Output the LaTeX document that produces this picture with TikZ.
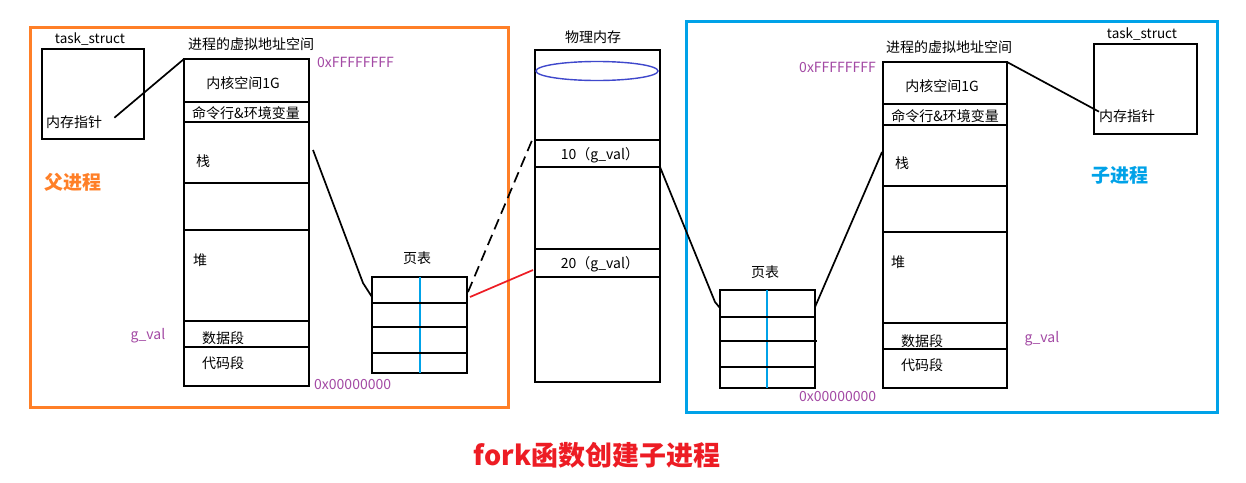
\documentclass[tikz,border=0pt]{standalone}
\usepackage{fontspec}
\setmainfont{Noto Sans CJK SC}
\usetikzlibrary{calc,shapes.geometric}
\definecolor{forange}{HTML}{FF7F27}
\definecolor{fblue}{HTML}{00A2E8}
\definecolor{purp}{HTML}{A349A4}
\definecolor{ellblue}{HTML}{3F48CC}
\definecolor{fred}{HTML}{ED1C24}
\begin{document}
\begin{tikzpicture}[x=1pt,y=-1pt,
  box/.style={draw=black, line width=1.7pt, inner sep=0pt, outer sep=0pt},
  seg/.style={box, anchor=north west},
  lbl/.style={font=\fontsize{14}{14}\selectfont, inner sep=0pt},
  small/.style={font=\fontsize{13.5}{13.5}\selectfont, inner sep=0pt},
  addr/.style={font=\fontsize{14}{14}\selectfont, text=purp, inner sep=0pt},
  link/.style={line width=1.7pt},
  frame/.style={line width=3pt, inner sep=0pt, outer sep=0pt, anchor=north west},
  rowline/.style={line width=1.7pt},
  midline/.style={line width=2pt, draw=fblue}]
\useasboundingbox[fill=white] (0,0) rectangle (1246,482);

% ---------- frames ----------
\node[frame, draw=forange, minimum width=478pt, minimum height=380pt] (pf) at (30,27) {};
\node[frame, draw=fblue, minimum width=531pt, minimum height=391pt] (cf) at (686,21) {};

% ---------- parent task_struct ----------
\node[seg, minimum width=102pt, minimum height=90pt] (ts1) at (42,49) {};
\node[small, anchor=base] (ts1l) at (90,43) {task\_struct};
\node[lbl, anchor=base west] (p1) at (46,127) {内存指针};

% ---------- parent virtual address space ----------
\node[lbl, anchor=base] (va1) at (251,49) {进程的虚拟地址空间};
\node[seg, minimum width=125pt, minimum height=43pt] (k1) at (184,59) {};
\node[seg, minimum width=125pt, minimum height=20pt, line width=2.2pt] (c1) at (184,102) {};
\node[seg, minimum width=125pt, minimum height=61pt] (s1) at (184,122) {};
\node[seg, minimum width=125pt, minimum height=47pt, line width=2.2pt] (b1) at (184,183) {};
\node[seg, minimum width=125pt, minimum height=91pt] (h1) at (184,230) {};
\node[seg, minimum width=125pt, minimum height=26pt, line width=2.2pt] (d1) at (184,321) {};
\node[seg, minimum width=125pt, minimum height=39pt] (t1) at (184,347) {};
\node[lbl] at (243,83) {内核空间1G};
\node[lbl] at (246,113) {命令行\&环境变量};
\node[lbl] at (203,161) {栈};
\node[lbl] at (200,260) {堆};
\node[lbl] at (223,338) {数据段};
\node[lbl] at (223,363) {代码段};
\node[addr, anchor=west] (hi1) at (317,62) {0xFFFFFFFF};
\node[addr, anchor=west] (lo1) at (314,385) {0x00000000};
\node[addr] (gv1) at (148,336) {g\_val};
\node[font=\fontsize{19}{19}\selectfont\bfseries, text=forange, inner sep=0pt] (fp) at (73,182) {父进程};

% ---------- parent page table ----------
\node[lbl] (pt1l) at (417,258) {页表};
\node[seg, minimum width=95pt, minimum height=96pt] (pt1) at (372,277) {};
\draw[midline] (pt1.north) -- (pt1.south);
\draw[rowline] ($(pt1.north west)+(0,26)$) -- ($(pt1.north east)+(0,26)$);
\draw[rowline] ($(pt1.north west)+(0,50)$) -- ($(pt1.north east)+(1,50)$);
\draw[rowline] ($(pt1.north west)+(0,76)$) -- ($(pt1.north east)+(0,76)$);

% ---------- physical memory ----------
\node[lbl, anchor=base] (pml) at (593,42) {物理内存};
\node[seg, minimum width=125pt, minimum height=332pt] (pm) at (535,50) {};
\node[draw=ellblue, line width=1.4pt, ellipse, minimum width=122pt, minimum height=19pt, inner sep=0pt] (ell) at (597,71) {};
\node[seg, minimum width=125pt, minimum height=27pt] (r10) at (535,140) {};
\node[seg, minimum width=125pt, minimum height=28pt] (r20) at (535,249) {};
\node[lbl] at (600,155) {10（g\_val）};
\node[lbl] at (600,264) {20（g\_val）};

% ---------- child page table ----------
\node[lbl] (pt2l) at (765,272) {页表};
\node[seg, minimum width=95pt, minimum height=98pt] (pt2) at (720,290) {};
\draw[midline] ($(pt2.north)+(-1,0)$) -- ($(pt2.south)+(-1,0)$);
\draw[rowline] ($(pt2.north west)+(-1,27)$) -- ($(pt2.north east)+(0,27)$);
\draw[rowline] ($(pt2.north west)+(0,51)$) -- ($(pt2.north east)+(2,51)$);
\draw[rowline] ($(pt2.north west)+(0,77)$) -- ($(pt2.north east)+(0,77)$);

% ---------- child virtual address space ----------
\node[lbl, anchor=base] (va2) at (949,52) {进程的虚拟地址空间};
\node[seg, minimum width=124pt, minimum height=42pt] (k2) at (883,62) {};
\node[seg, minimum width=124pt, minimum height=21pt, line width=2.2pt] (c2) at (883,104) {};
\node[seg, minimum width=124pt, minimum height=61pt] (s2) at (883,125) {};
\node[seg, minimum width=124pt, minimum height=46pt, line width=2.2pt] (b2) at (883,186) {};
\node[seg, minimum width=124pt, minimum height=91pt] (h2) at (883,232) {};
\node[seg, minimum width=124pt, minimum height=26pt, line width=2.2pt] (d2) at (883,323) {};
\node[seg, minimum width=124pt, minimum height=39pt] (t2) at (883,349) {};
\node[lbl] at (942,86) {内核空间1G};
\node[lbl] at (945,116) {命令行\&环境变量};
\node[lbl] at (902,163) {栈};
\node[lbl] at (898,262) {堆};
\node[lbl] at (922,341) {数据段};
\node[lbl] at (922,365) {代码段};
\node[addr, anchor=east] (hi2) at (876,67) {0xFFFFFFFF};
\node[addr, anchor=west] (lo2) at (799,397) {0x00000000};
\node[addr] (gv2) at (1042,339) {g\_val};

% ---------- child task_struct ----------
\node[seg, minimum width=103pt, minimum height=90pt] (ts2) at (1094,44) {};
\node[small, anchor=base] (ts2l) at (1142,38) {task\_struct};
\node[lbl, anchor=base west] (p2) at (1099,121) {内存指针};
\node[font=\fontsize{19}{19}\selectfont\bfseries, text=fblue, inner sep=0pt] (cp) at (1120,175) {子进程};

% ---------- connectors ----------
\draw[link] ($(p1.east)+(12,-4)$) -- (k1.north west);
\draw[link] (k2.north east) -- ($(p2.west)+(0,-4)$);
\draw[link] ($(s1.north east)+(4,28)$) -- ($(pt1.north west)+(-9,6)$) -- ($(pt1.north west)+(0,20)$);
\draw[link, dashed, dash pattern=on 11pt off 6pt] ($(pt1.north east)+(1,15)$) -- ($(r10.north west)+(-2,-2)$);
\draw[link, draw=fred] ($(pt1.north east)+(3,20)$) -- ($(r20.north west)+(-2,21)$);
\draw[link] (r10.south east) -- ($(pt2.north west)+(-5,12)$) -- ($(pt2.north west)+(0,18)$);
\draw[link] ($(pt2.north east)+(0,17)$) -- ($(s2.north west)+(-1,27)$);

% ---------- title ----------
\node[font=\fontsize{27}{27}\selectfont\bfseries, text=fred, inner sep=0pt] (title) at (597,455) {fork函数创建子进程};
\end{tikzpicture}
\end{document}
